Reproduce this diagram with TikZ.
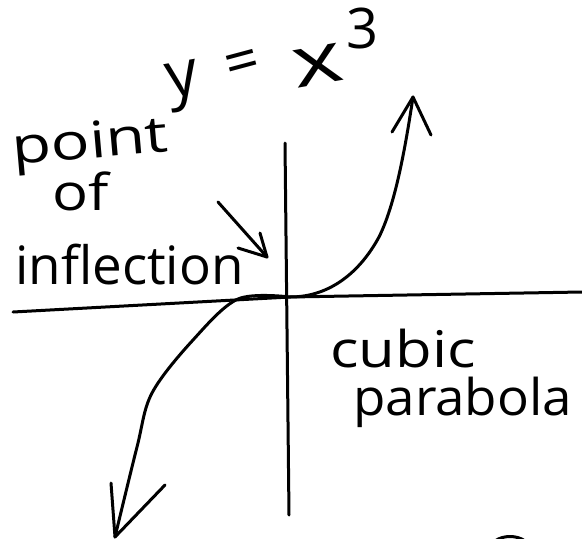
\documentclass[tikz,border=0pt]{standalone}
\usepackage{fontspec}
\usepackage{graphicx}
\setmainfont{Open Sans}
\begin{document}
\begin{tikzpicture}[x=1pt,y=-1pt,
  pen/.style={line width=3pt, line cap=round, line join=round, black},
  hand/.style={inner sep=0pt, font=\fontsize{46}{46}\selectfont},
  big/.style={inner sep=0pt, font=\fontsize{64}{64}\selectfont}]
\useasboundingbox (0,0) rectangle (582,539);
% axes
\coordinate (O) at (290,297);
\coordinate (hL) at (13,312);
\coordinate (hR) at (582,292);
\coordinate (vT) at (285,143);
\coordinate (vB) at (289,515);
\draw[pen] (hL) -- (O) -- (hR);
\draw[pen] (vT) -- (vB);
% cubic curve
\coordinate (uTip) at (413,97);
\coordinate (lTip) at (115,537);
\draw[pen] (O) .. controls (330,297) and (360,272) .. (379,237)
  .. controls (395,205) and (405,150) .. (uTip);
\draw[pen] (392,132) -- (uTip) -- (431,135);
\draw[pen] plot[smooth, tension=0.55] coordinates
  {(290,297) (238,299) (193,340) (152,393) (137,447) (115,537)};
\draw[pen] (111,483) -- (lTip) -- (165,485);
% pointer arrow
\coordinate (pS) at (218,202);
\coordinate (pT) at (267,257);
\draw[pen] (pS) -- (pT);
\draw[pen] (238,248) -- (pT) -- (260,233);
% small stroke at bottom edge
\draw[pen] (495,541) .. controls (503,535) and (517,535) .. (525,541);
% labels
\node[hand, anchor=base west, rotate=5] (lpoint) at (13,165) {\scalebox{1.4}[1.1]{point}};
\node[hand, anchor=base west] (lof) at (52,210) {\scalebox{1.3}[1.1]{of}};
\node[hand, anchor=base west] (linfl) at (15,284) {\scalebox{1.15}[1.15]{inflection}};
\node[big, anchor=base, rotate=10] (ly) at (185,96) {y};
\node[hand, font=\fontsize{60}{60}\selectfont, rotate=15] (leq) at (243,67) {=};
\node[big, rotate=10] (lx) at (318,66) {\scalebox{1.5}[1.1]{x}};
\node[hand, font=\fontsize{56}{56}\selectfont] (l3) at (363,28) {3};
\node[hand, anchor=base west] (lcubic) at (330,367) {\scalebox{1.3}[1.1]{cubic}};
\node[hand, anchor=base west] (lpara) at (353,415) {\scalebox{1.15}[1.1]{parabola}};
\end{tikzpicture}
\end{document}
